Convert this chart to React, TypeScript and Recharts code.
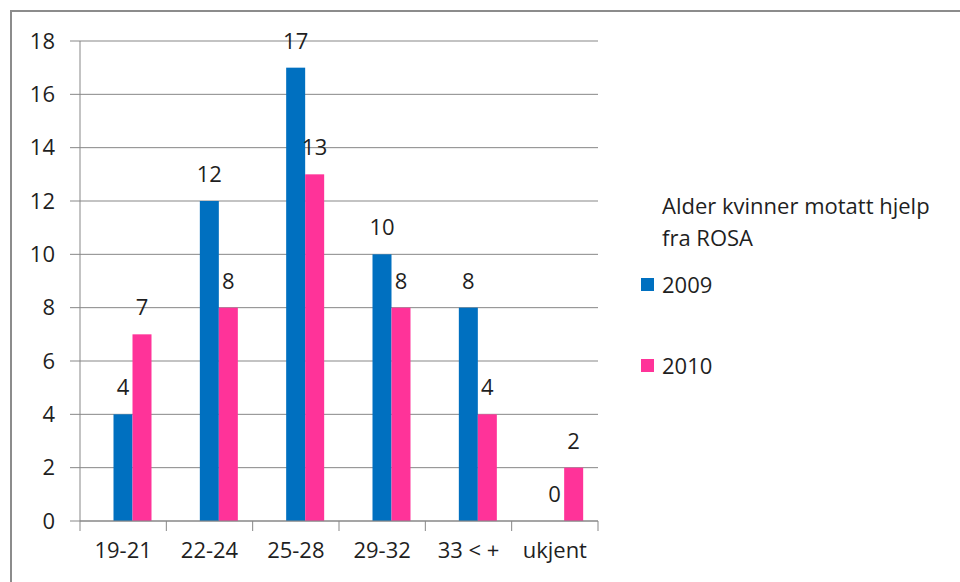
import { BarChart, Bar, XAxis, YAxis, CartesianGrid, Legend, LabelList } from 'recharts';

const categories = ['19-21', '22-24', '25-28', '29-32', '33 < +', 'ukjent'];
const values2009 = [4, 12, 17, 10, 8, 0];
const values2010 = [7, 8, 13, 8, 4, 2];
const yTicks = [0, 2, 4, 6, 8, 10, 12, 14, 16, 18];
const legendTitle = ['Alder kvinner motatt hjelp', 'fra ROSA'];

const FONT = '"Open Sans", sans-serif';
const GRID = '#878787';
const TEXT = '#1f1f1f';
// the original sits its bar pairs a little right of the category centre
const BAR_SHIFT = 9.5;

const data = categories.map((c, i) => ({ group: c, '2009': values2009[i], '2010': values2010[i] }));

// category labels centred, tick marks drawn on the category edges (Excel style)
function EdgeTick(props: any) {
    const { x, y, payload, index, width, visibleTicksCount } = props;
    const band = width / visibleTicksCount;
    const last = index === visibleTicksCount - 1;
    return (
        <g>
            <line x1={x - band / 2} x2={x - band / 2} y1={y - 10} y2={y} stroke={GRID} />
            {last && <line x1={x + band / 2} x2={x + band / 2} y1={y - 10} y2={y} stroke={GRID} />}
            <text x={x} y={y + 27} textAnchor="middle" fill={TEXT} fontSize={22} fontFamily={FONT}>
                {payload.value}
            </text>
        </g>
    );
}

const ShiftedBar = (p: any) => (
    <rect x={p.x + BAR_SHIFT} y={p.y} width={p.width} height={Math.max(p.height, 0)} fill={p.fill} />
);

const ValueLabel = (p: any) => (
    <text
        x={p.x + p.width / 2 + BAR_SHIFT}
        y={p.y - 19}
        textAnchor="middle"
        fill={TEXT}
        fontSize={22}
        fontFamily={FONT}
    >
        {String(p.value)}
    </text>
);

function LegendBox({ payload }: any) {
    return (
        <div style={{ position: 'relative', width: 320, height: 200, fontFamily: FONT, fontSize: 22, color: TEXT }}>
            <div style={{ position: 'absolute', left: 21, top: 0, lineHeight: '32px', whiteSpace: 'nowrap' }}>
                {legendTitle[0]}
                <br />
                {legendTitle[1]}
            </div>
            {(payload || []).map((p: any, i: number) => (
                <div key={p.value} style={{ position: 'absolute', left: 0, top: 79 + i * 81, height: 32, display: 'flex', alignItems: 'center' }}>
                    <span style={{ width: 13, height: 13, background: p.color, display: 'inline-block', marginRight: 8 }} />
                    <span>{p.value}</span>
                </div>
            ))}
        </div>
    );
}

export default function App() {
    return (
        <div style={{ position: 'fixed', left: 0, top: 0, width: 960, height: 582, background: '#fff', overflow: 'hidden' }}>
            <div style={{ position: 'absolute', left: 10, top: 10, width: 1000, height: 700, border: '2px solid #8c8c8c', boxSizing: 'border-box' }} />
            <div style={{ position: 'absolute', left: 0, top: 0 }}>
                <BarChart
                    width={960}
                    height={582}
                    data={data}
                    margin={{ top: 41, right: 362, bottom: 21, left: 0 }}
                    barCategoryGap={24}
                    barGap={0}
                >
                    <CartesianGrid vertical={false} stroke={GRID} />
                    <XAxis
                        dataKey="group"
                        height={40}
                        interval={0}
                        tickLine={false}
                        tickSize={10}
                        tickMargin={0}
                        axisLine={{ stroke: GRID }}
                        tick={<EdgeTick />}
                    />
                    <YAxis
                        width={80}
                        domain={[0, 18]}
                        ticks={yTicks}
                        interval={0}
                        tickSize={10}
                        tickMargin={15}
                        axisLine={{ stroke: GRID }}
                        tickLine={{ stroke: GRID }}
                        tick={{ fill: TEXT, fontSize: 22, fontFamily: FONT }}
                    />
                    <Legend
                        layout="horizontal"
                        verticalAlign="middle"
                        align="center"
                        content={<LegendBox />}
                        wrapperStyle={{ left: 641, top: 189, width: 320 }}
                    />
                    <Bar dataKey="2009" fill="#0070C0" shape={ShiftedBar} isAnimationActive={false}>
                        <LabelList dataKey="2009" content={ValueLabel} />
                    </Bar>
                    <Bar dataKey="2010" fill="#FF3399" shape={ShiftedBar} isAnimationActive={false}>
                        <LabelList dataKey="2010" content={ValueLabel} />
                    </Bar>
                </BarChart>
            </div>
        </div>
    );
}
